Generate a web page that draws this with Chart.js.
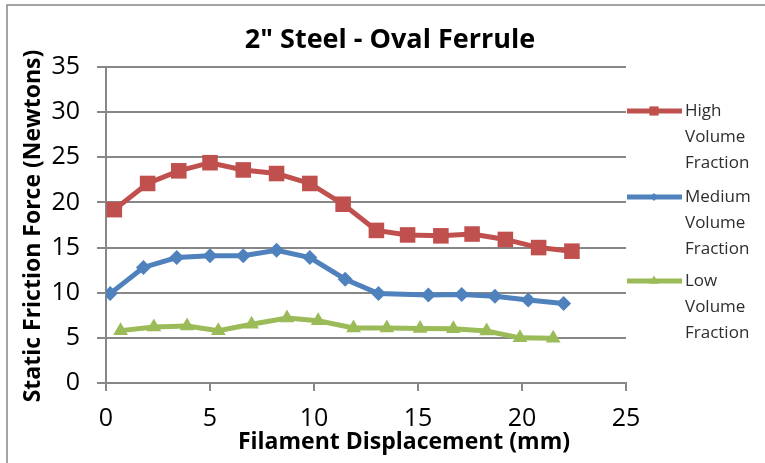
<!DOCTYPE html>
<html>
<head>
<meta charset="utf-8">
<script src="https://cdn.jsdelivr.net/npm/chart.js@4.4.1/dist/chart.umd.min.js"></script>
<style>
    html, body { margin: 0; padding: 0; background: #fff; }
    #wrap { width: 765px; height: 463px; position: relative; }
</style>
</head>
<body>
<div id="wrap"><canvas id="frictionChart"></canvas></div>
<script>
// Chart data
const chartTitle = '2" Steel - Oval Ferrule';
const xTitle = 'Filament Displacement (mm)';
const yTitle = 'Static Friction Force (Newtons)';
const seriesNames = ['High Volume Fraction', 'Medium Volume Fraction', 'Low Volume Fraction'];

const highX = [0.4, 2.0, 3.5, 5.0, 6.6, 8.2, 9.8, 11.4, 13.0, 14.5, 16.1, 17.6, 19.2, 20.8, 22.4];
const highY = [19.2, 22.1, 23.5, 24.4, 23.6, 23.2, 22.1, 19.8, 16.9, 16.4, 16.3, 16.5, 15.9, 15.0, 14.6];

const medX = [0.2, 1.8, 3.4, 5.0, 6.6, 8.2, 9.8, 11.5, 13.1, 15.5, 17.1, 18.7, 20.3, 22.0];
const medY = [9.9, 12.8, 13.9, 14.1, 14.1, 14.7, 13.9, 11.5, 9.9, 9.75, 9.8, 9.6, 9.2, 8.8];

const lowX = [0.7, 2.3, 3.9, 5.4, 7.0, 8.7, 10.2, 11.9, 13.5, 15.1, 16.7, 18.3, 19.9, 21.5];
const lowY = [5.8, 6.2, 6.3, 5.8, 6.5, 7.2, 6.9, 6.1, 6.1, 6.05, 6.0, 5.75, 5.0, 4.95];

const xTicks = [0, 5, 10, 15, 20, 25];
const yTicks = [0, 5, 10, 15, 20, 25, 30, 35];

const gridColor = '#878787';
const fontFamily = '"Open Sans", "Noto Sans", sans-serif';

function toPoints(xs, ys) {
    return xs.map((x, i) => ({ x: x, y: ys[i] }));
}

// frame, titles and the wrapped legend
const decorPlugin = {
    id: 'decor',
    beforeDraw(chart) {
        const ctx = chart.ctx;
        ctx.save();
        ctx.fillStyle = '#fff';
        ctx.fillRect(0, 0, chart.width, chart.height);
        ctx.strokeStyle = gridColor;
        ctx.lineWidth = 1.5;
        ctx.strokeRect(7, 5, chart.width + 20, chart.height + 20);
        ctx.restore();
    },
    afterDraw(chart) {
        const ctx = chart.ctx;
        ctx.save();
        ctx.fillStyle = '#000';
        ctx.textAlign = 'center';
        ctx.textBaseline = 'middle';

        ctx.font = 'bold 27px ' + fontFamily;
        ctx.fillText(chartTitle, 390, 40);

        ctx.font = 'bold 23px ' + fontFamily;
        ctx.fillText(xTitle, 404, 442);

        ctx.translate(33, 226);
        ctx.rotate(-Math.PI / 2);
        ctx.fillText(yTitle, 0, 0);
        ctx.restore();

        // legend
        const legendTop = [111, 197, 281];
        ctx.save();
        chart.data.datasets.forEach((ds, i) => {
            const y = legendTop[i];
            ctx.strokeStyle = ds.borderColor;
            ctx.lineWidth = 5;
            ctx.beginPath();
            ctx.moveTo(627, y);
            ctx.lineTo(682, y);
            ctx.stroke();
            ctx.fillStyle = ds.borderColor;
            Chart.helpers.drawPoint(ctx, {
                pointStyle: ds.pointStyle,
                radius: ds.legendRadius,
                borderWidth: 0,
                rotation: 0
            }, 654, y);

            ctx.fillStyle = '#2e2e2e';
            ctx.font = '17px ' + fontFamily;
            ctx.textAlign = 'left';
            ctx.textBaseline = 'middle';
            seriesNames[i].split(' ').forEach((word, j) => {
                ctx.fillText(word, 685, y + j * 26);
            });
        });
        ctx.restore();
    }
};

const makeSeries = (label, data, color, style, radius, legendRadius) => ({
    label: label,
    data: data,
    borderColor: color,
    backgroundColor: color,
    borderWidth: 5,
    tension: 0,
    pointStyle: style,
    pointRadius: radius,
    pointHoverRadius: radius,
    pointBorderWidth: 0,
    pointBackgroundColor: color,
    legendRadius: legendRadius
});

const frictionChart = new Chart(document.getElementById('frictionChart'), {
    type: 'line',
    data: {
        datasets: [
            makeSeries(seriesNames[0], toPoints(highX, highY), '#C0504D', 'rect', 11, 6.5),
            makeSeries(seriesNames[1], toPoints(medX, medY), '#4F81BD', 'rectRot', 7.5, 4),
            makeSeries(seriesNames[2], toPoints(lowX, lowY), '#9BBB59', 'triangle', 8.5, 5.5)
        ]
    },
    options: {
        responsive: true,
        maintainAspectRatio: false,
        animation: false,
        layout: {
            padding: { left: 0, top: 67, right: 139, bottom: 0 }
        },
        scales: {
            x: {
                type: 'linear',
                min: 0,
                max: 25,
                afterFit(scale) { scale.height = 80; },
                afterBuildTicks(scale) { scale.ticks = xTicks.map(v => ({ value: v })); },
                border: { color: gridColor, width: 2 },
                grid: {
                    drawOnChartArea: false,
                    drawTicks: true,
                    tickLength: 8,
                    color: gridColor,
                    lineWidth: 2
                },
                ticks: {
                    color: '#000',
                    padding: 13,
                    font: { family: fontFamily, size: 25 }
                }
            },
            y: {
                min: 0,
                max: 35,
                afterFit(scale) { scale.width = 106; },
                afterBuildTicks(scale) { scale.ticks = yTicks.map(v => ({ value: v })); },
                border: { color: gridColor, width: 2 },
                grid: {
                    drawTicks: true,
                    tickLength: 9,
                    color: gridColor,
                    lineWidth: 2
                },
                ticks: {
                    color: '#000',
                    padding: 17,
                    font: { family: fontFamily, size: 25 }
                }
            }
        },
        plugins: {
            legend: { display: false },
            title: { display: false },
            tooltip: { enabled: false }
        }
    },
    plugins: [decorPlugin]
});
</script>
</body>
</html>
